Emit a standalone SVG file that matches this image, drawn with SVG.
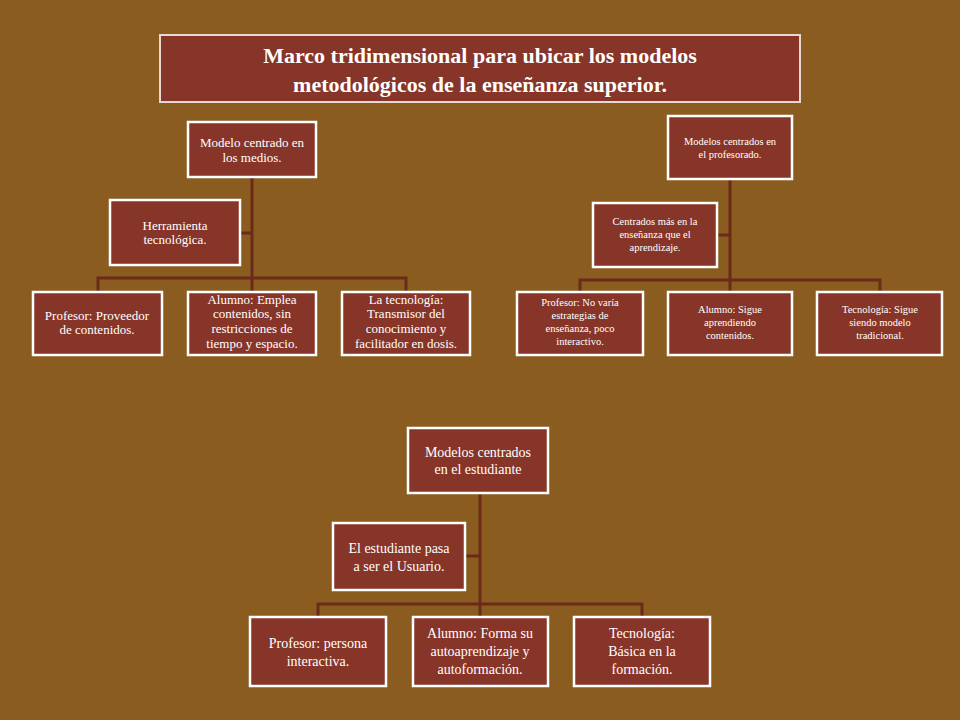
<svg xmlns="http://www.w3.org/2000/svg" width="960" height="720" viewBox="0 0 960 720">
<style>
.b{fill:#873528;stroke:#fff;stroke-width:2.5}
.t{fill:#fff;font-family:"Liberation Serif","Times New Roman",serif;text-anchor:middle}
.c{stroke:#6b2a1a;stroke-width:3;fill:none}
</style>
<rect width="960" height="720" fill="#8a5c1f"/>
<g id="title"><rect x="160" y="35" width="640" height="67" fill="#873528" stroke="#e8d8d0" stroke-width="2"/>
<text class="t" font-size="22" font-weight="bold"><tspan x="480" y="63">Marco tridimensional para ubicar los modelos</tspan><tspan x="480" y="92">metodológicos de la enseñanza superior.</tspan></text></g>
<g id="connectors">
<path class="c" d="M252 177V278M98 292V278H406V292M252 278V292M240 233H252"/>
<path class="c" d="M730 179V280M580 292V280H880V292M730 280V292M717 235H730"/>
<path class="c" d="M480 493V604M318 617V604H642V617M480 604V617M465 556H480"/>
</g>
<g id="n1"><rect class="b" x="188" y="122" width="128" height="55"/><text class="t" font-size="13"><tspan x="252" y="147">Modelo centrado en</tspan><tspan x="252" y="162">los medios.</tspan></text></g>
<g id="n2"><rect class="b" x="110" y="200" width="130" height="65"/><text class="t" font-size="13"><tspan x="175" y="230">Herramienta</tspan><tspan x="175" y="244">tecnológica.</tspan></text></g>
<g id="n3"><rect class="b" x="33" y="292" width="129" height="63"/><text class="t" font-size="13"><tspan x="97" y="320">Profesor: Proveedor</tspan><tspan x="97" y="334">de contenidos.</tspan></text></g>
<g id="n4"><rect class="b" x="188" y="292" width="128" height="63"/><text class="t" font-size="13"><tspan x="252" y="304">Alumno: Emplea</tspan><tspan x="252" y="318">contenidos, sin</tspan><tspan x="252" y="333">restricciones de</tspan><tspan x="252" y="348">tiempo y espacio.</tspan></text></g>
<g id="n5"><rect class="b" x="342" y="292" width="128" height="63"/><text class="t" font-size="13"><tspan x="406" y="304">La tecnología:</tspan><tspan x="406" y="318">Transmisor del</tspan><tspan x="406" y="333">conocimiento y</tspan><tspan x="406" y="348">facilitador en dosis.</tspan></text></g>
<g id="m1"><rect class="b" x="668" y="116" width="124" height="63"/><text class="t" font-size="10.5"><tspan x="730" y="145">Modelos centrados en</tspan><tspan x="730" y="158">el profesorado.</tspan></text></g>
<g id="m2"><rect class="b" x="593" y="203" width="124" height="64"/><text class="t" font-size="10.5"><tspan x="655" y="225">Centrados más en la</tspan><tspan x="655" y="238">enseñanza que el</tspan><tspan x="655" y="251">aprendizaje.</tspan></text></g>
<g id="m3"><rect class="b" x="517" y="292" width="126" height="63"/><text class="t" font-size="10.5"><tspan x="580" y="306">Profesor: No varía</tspan><tspan x="580" y="319">estrategias de</tspan><tspan x="580" y="332">enseñanza, poco</tspan><tspan x="580" y="345">interactivo.</tspan></text></g>
<g id="m4"><rect class="b" x="668" y="292" width="124" height="63"/><text class="t" font-size="10.5"><tspan x="730" y="313">Alumno: Sigue</tspan><tspan x="730" y="326">aprendiendo</tspan><tspan x="730" y="339">contenidos.</tspan></text></g>
<g id="m5"><rect class="b" x="817" y="292" width="125" height="63"/><text class="t" font-size="10.5"><tspan x="880" y="313">Tecnología: Sigue</tspan><tspan x="880" y="326">siendo modelo</tspan><tspan x="880" y="339">tradicional.</tspan></text></g>
<g id="e1"><rect class="b" x="408" y="428" width="140" height="65"/><text class="t" font-size="14"><tspan x="478" y="457">Modelos centrados</tspan><tspan x="478" y="474">en el estudiante</tspan></text></g>
<g id="e2"><rect class="b" x="333" y="523" width="132" height="67"/><text class="t" font-size="14"><tspan x="399" y="553">El estudiante pasa</tspan><tspan x="399" y="571">a ser el Usuario.</tspan></text></g>
<g id="e3"><rect class="b" x="250" y="617" width="136" height="69"/><text class="t" font-size="14"><tspan x="318" y="648">Profesor: persona</tspan><tspan x="318" y="666">interactiva.</tspan></text></g>
<g id="e4"><rect class="b" x="413" y="617" width="135" height="69"/><text class="t" font-size="14"><tspan x="480" y="638">Alumno: Forma su</tspan><tspan x="480" y="656">autoaprendizaje y</tspan><tspan x="480" y="674">autoformación.</tspan></text></g>
<g id="e5"><rect class="b" x="574" y="617" width="136" height="69"/><text class="t" font-size="14"><tspan x="642" y="638">Tecnología:</tspan><tspan x="642" y="656">Básica en la</tspan><tspan x="642" y="674">formación.</tspan></text></g>
</svg>
